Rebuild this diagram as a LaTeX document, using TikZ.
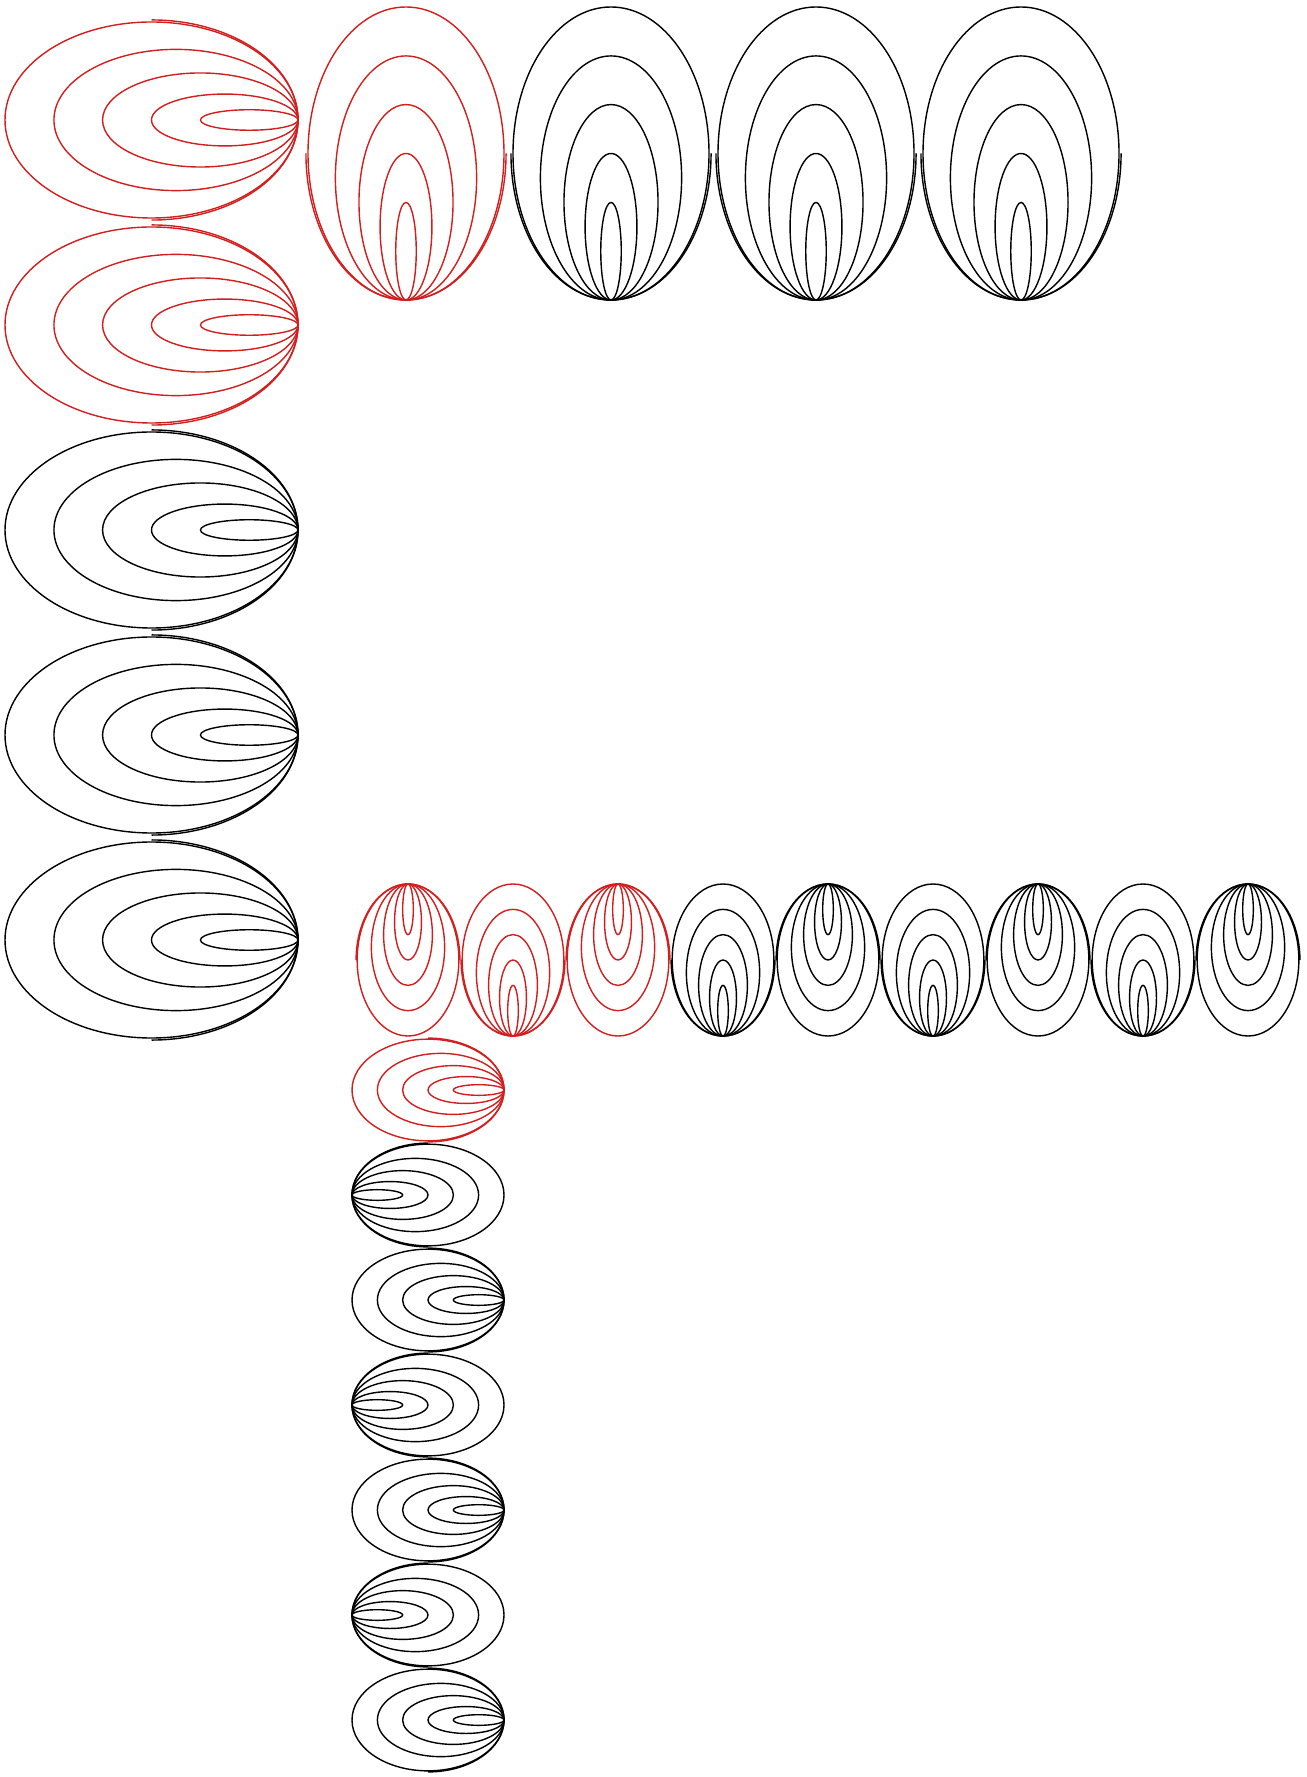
\documentclass[tikz,border=0pt]{standalone}
\usepackage{tikz}
\usetikzlibrary{calc}
\usepackage{xcolor}
\definecolor{lobered}{RGB}{210,30,30}

\tikzset{
	lobe/.pic={
		% five ellipses sharing one tip at the origin
		\foreach \fa/\fb in {1/.669,.833/.482,.667/.321,.5/.177,.333/.07}
		\draw (-\fa,0) ellipse [x radius=\fa, y radius=\fb];
		\draw (-1,-.683) arc [start angle=-90, end angle=90, x radius=1, y radius=.683];
	}
}

\begin{document}
\begin{tikzpicture}[x=0.01cm,y=-0.01cm,line width=0.4pt]
	\useasboundingbox (0,0) rectangle (1307,1777);
	% big column, tips to the right
	\foreach \y/\c in {120/lobered,325/lobered,530/black,735/black,940/black}
	\pic[color=\c,scale=146.5] at (298,\y) {lobe};
	% big row, tips down
	\foreach \x/\c in {406/lobered,611/black,816/black,1021/black}
	\pic[color=\c,scale=146.5,rotate=-90] at (\x,300) {lobe};
	
	% small row
	\foreach \x/\ty/\r/\c in {408/884/90/lobered,513/1036/-90/lobered,618/884/90/lobered,
		723/1036/-90/black,828/884/90/black,933/1036/-90/black,
		1038/884/90/black,1143/1036/-90/black,1248/884/90/black}
	\pic[color=\c,scale=76,rotate=\r] at (\x,\ty) {lobe};
	% small column
	\foreach \y/\tx/\r/\c in {1090/504/0/lobered,1195/352/180/black,1300/504/0/black,
		1405/352/180/black,1510/504/0/black,1615/352/180/black,1720/504/0/black}
	\pic[color=\c,scale=76,rotate=\r] at (\tx,\y) {lobe};
%	\draw[red] (0,0) rectangle (1307,1777);
\end{tikzpicture}
\end{document}
